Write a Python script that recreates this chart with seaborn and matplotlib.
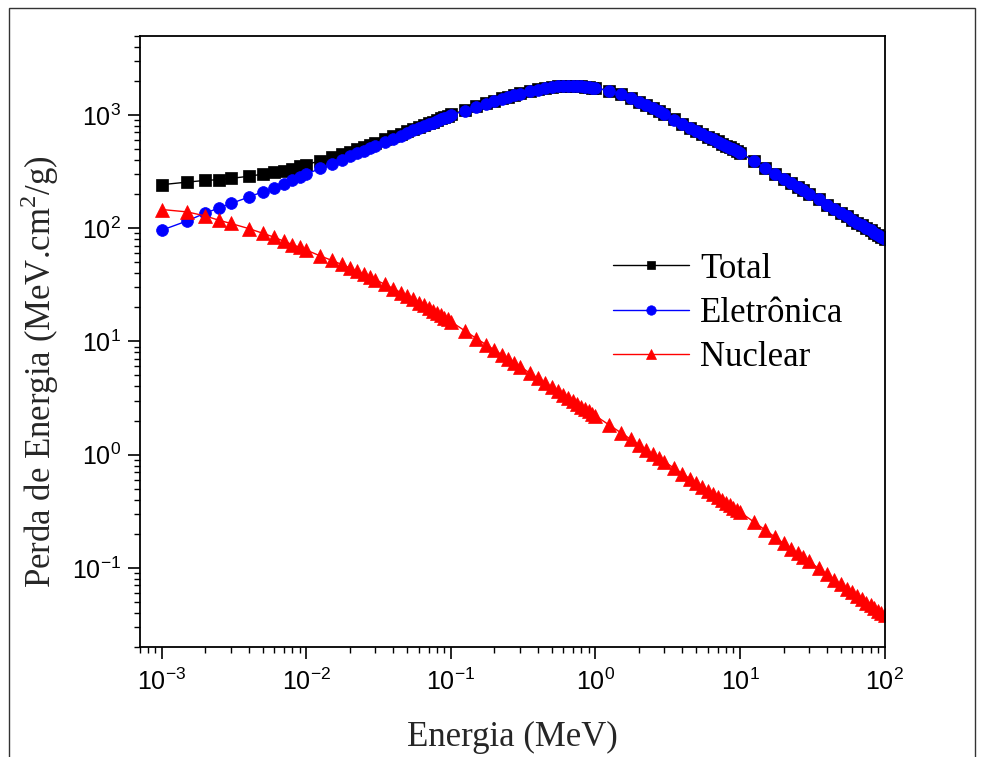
import matplotlib
matplotlib.use("Agg")
import matplotlib.pyplot as plt
import seaborn as sns
import pandas as pd
from matplotlib.patches import Rectangle

# Energia (MeV) - malha de energias da tabela
energia = [
    0.001, 0.0015, 0.002, 0.0025, 0.003, 0.004, 0.005, 0.006, 0.007, 0.008, 0.009, 0.01,
    0.0125, 0.015, 0.0175, 0.02, 0.0225, 0.025, 0.0275, 0.03, 0.035, 0.04, 0.045,
    0.05, 0.055, 0.06, 0.065, 0.07, 0.075, 0.08, 0.085, 0.09, 0.095, 0.1,
    0.125, 0.15, 0.175, 0.2, 0.225, 0.25, 0.275, 0.3, 0.35, 0.4, 0.45,
    0.5, 0.55, 0.6, 0.65, 0.7, 0.75, 0.8, 0.85, 0.9, 0.95, 1.0,
    1.25, 1.5, 1.75, 2.0, 2.25, 2.5, 2.75, 3.0, 3.5, 4.0, 4.5,
    5.0, 5.5, 6.0, 6.5, 7.0, 7.5, 8.0, 8.5, 9.0, 9.5, 10.0,
    12.5, 15.0, 17.5, 20.0, 22.5, 25.0, 27.5, 30.0, 35.0, 40.0, 45.0,
    50.0, 55.0, 60.0, 65.0, 70.0, 75.0, 80.0, 85.0, 90.0, 95.0, 100.0,
]

# Perda de energia (MeV.cm2/g)
eletronica = [
    96, 116, 136, 151, 165, 188, 210, 228, 246, 264, 284, 300,
    337, 370, 401, 430, 457, 483, 508, 531, 575, 617, 656,
    693, 728, 762, 794, 825, 855, 885, 913, 940, 967, 993,
    1090, 1180, 1255, 1325, 1390, 1445, 1495, 1540, 1615, 1675, 1720,
    1760, 1785, 1800, 1808, 1808, 1800, 1790, 1775, 1760, 1742, 1725,
    1630, 1520, 1410, 1310, 1220, 1145, 1075, 1010, 910, 835, 772,
    720, 678, 640, 610, 582, 557, 535, 515, 497, 480, 463,
    391, 340, 303, 273, 250, 231, 215, 201, 179, 161, 148,
    136, 127, 119, 112, 106, 100, 95.3, 91.1, 87.2, 83.7, 80.5,
]

nuclear = [
    146, 139, 128, 117, 110, 99, 90, 83, 76.5, 71.5, 67.5, 64,
    56.7, 51.9, 47.8, 44.5, 41.6, 39.1, 37.0, 35.1, 31.8, 29.2, 27.0,
    25.1, 23.5, 22.0, 20.8, 19.7, 18.7, 17.8, 17.0, 16.2, 15.6, 14.9,
    12.4, 10.6, 9.36, 8.38, 7.60, 6.96, 6.44, 5.99, 5.27, 4.71, 4.28,
    3.92, 3.62, 3.37, 3.15, 2.96, 2.80, 2.65, 2.52, 2.41, 2.30, 2.20,
    1.82, 1.56, 1.37, 1.22, 1.10, 1.01, 0.931, 0.865, 0.759, 0.677, 0.613,
    0.560, 0.517, 0.480, 0.448, 0.421, 0.397, 0.376, 0.357, 0.340, 0.325, 0.311,
    0.254, 0.215, 0.187, 0.165, 0.148, 0.135, 0.1235, 0.114, 0.0991, 0.0877, 0.0788,
    0.0716, 0.0656, 0.0606, 0.0563, 0.0526, 0.0494, 0.0466, 0.0441, 0.0418, 0.0398, 0.0380,
]

total = [
    242, 255, 264, 268, 275, 287, 300, 311, 322.5, 335.5, 351.5, 364,
    393.7, 421.9, 448.8, 474.5, 498.6, 522.1, 545.0, 566.1, 606.8, 646.2, 683.0,
    718.1, 751.5, 784.0, 814.8, 844.7, 873.7, 902.8, 930.0, 956.2, 982.6, 1007.9,
    1102.4, 1190.6, 1264.4, 1333.4, 1397.6, 1452.0, 1501.4, 1546.0, 1620.3, 1679.7, 1724.3,
    1763.9, 1788.6, 1803.4, 1811.2, 1811.0, 1802.8, 1792.7, 1777.5, 1762.4, 1744.3, 1727.2,
    1631.8, 1521.6, 1411.4, 1311.2, 1221.1, 1146.0, 1075.9, 1010.9, 910.8, 835.7, 772.6,
    720.6, 678.5, 640.5, 610.4, 582.4, 557.4, 535.4, 515.4, 497.3, 480.3, 463.3,
    391.3, 340.2, 303.2, 273.2, 250.1, 231.1, 215.1, 201.1, 179.1, 161.1, 148.1,
    136.1, 127.1, 119.1, 112.1, 106.1, 100.0, 95.3, 91.1, 87.2, 83.7, 80.5,
]

series = [
    ("Total", total, "black", "s", 8.0),
    ("Eletrônica", eletronica, "blue", "o", 8.5),
    ("Nuclear", nuclear, "red", "^", 9.5),
]

sns.set_style("ticks")
plt.rcParams["font.family"] = ["Liberation Sans", "DejaVu Sans"]
plt.rcParams["axes.edgecolor"] = "black"
plt.rcParams["text.color"] = "black"
plt.rcParams["xtick.color"] = "black"
plt.rcParams["ytick.color"] = "black"

fig = plt.figure(figsize=(9.84, 7.57), dpi=100)
ax = fig.add_axes([0.1418, 0.1453, 0.7571, 0.8075])
ax.set_xscale("log")
ax.set_yscale("log")

for nome, valores, cor, marcador, tam in series:
    df = pd.DataFrame({"energia": energia, "perda": valores})
    sns.lineplot(data=df, x="energia", y="perda", ax=ax, color=cor,
                 marker=marcador, markersize=tam, markeredgecolor=cor,
                 markeredgewidth=0.5, linewidth=1.0, label=nome)

ax.set_xlim(7e-4, 100)
ax.set_ylim(0.02, 5000)

for s in ax.spines.values():
    s.set_linewidth(1.3)
    s.set_color("black")

ax.tick_params(which="major", length=8.5, width=1.2, labelsize=18, pad=5)
ax.tick_params(which="minor", length=4.5, width=1.0)
ax.tick_params(axis="x", which="major", pad=7)

serif = ["Liberation Serif", "DejaVu Serif"]
ax.set_xlabel("Energia (MeV)", fontsize=25, family=serif, labelpad=19)
ax.set_ylabel(r"Perda de Energia (MeV.cm$^\mathdefault{2}$/g)", fontsize=25,
              family=serif)
ax.yaxis.set_label_coords(-0.105, 0.45)

leg = ax.legend(loc="center left", bbox_to_anchor=(0.6356, 0.546),
                frameon=False, borderpad=0, borderaxespad=0,
                handlelength=2.2, handletextpad=0.3, labelspacing=0.32,
                markerscale=0.8, prop={"family": serif, "size": 25})

# moldura externa da figura
fig.patches.append(Rectangle((9 / 984, -0.02), (975 - 9) / 984, 1.02 - 8 / 757,
                             transform=fig.transFigure, fill=False,
                             edgecolor="#333333", linewidth=1.0))

fig.savefig("out.png", dpi=100)
